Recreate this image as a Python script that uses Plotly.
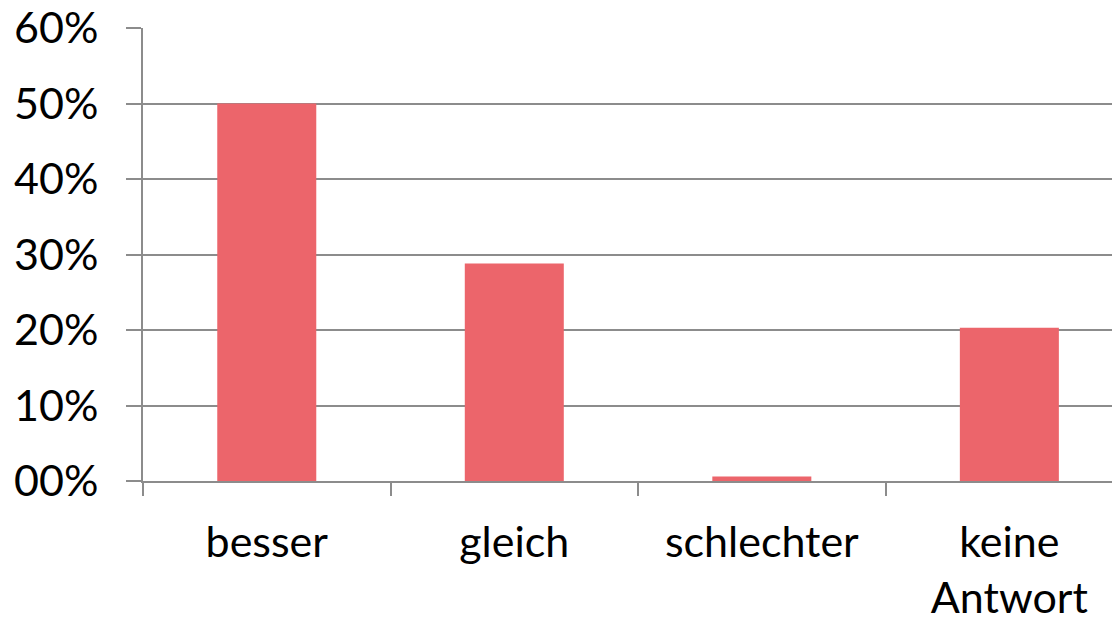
import plotly.graph_objects as go

categories = ["besser", "gleich", "schlechter", "keine<br>Antwort"]
shares = [0.50, 0.288, 0.006, 0.203]
y_tick_values = [0, 0.1, 0.2, 0.3, 0.4, 0.5, 0.6]
y_tick_labels = ["00%", "10%", "20%", "30%", "40%", "50%", "60%"]

bar_color = "#EC656B"
line_color = "#8C8C8C"
font_family = "Lato, 'Open Sans', sans-serif"

fig = go.Figure(
    go.Bar(
        x=categories,
        y=shares,
        width=0.4,
        marker=dict(color=bar_color, line=dict(width=0)),
        hovertemplate="%{x}: %{y:.1%}<extra></extra>",
    )
)

# page body has an 8px margin, so the figure is sized to fit what remains
fig.update_layout(
    width=1112,
    height=613,
    margin=dict(l=135, r=0, t=20, b=140, autoexpand=False),
    paper_bgcolor="white",
    plot_bgcolor="white",
    showlegend=False,
    font=dict(family=font_family, size=43, color="black"),
)

fig.update_xaxes(
    type="category",
    range=[-0.5, 3.447],
    tickson="boundaries",
    ticks="outside",
    ticklen=13,
    tickwidth=2,
    tickcolor=line_color,
    showline=True,
    linecolor=line_color,
    linewidth=2,
    showgrid=False,
    automargin=False,
    ticklabelstandoff=22,
    ticklabeloverflow="allow",
)

fig.update_yaxes(
    range=[0, 0.6],
    tickmode="array",
    tickvals=y_tick_values,
    ticktext=y_tick_labels,
    ticks="outside",
    ticklen=15,
    tickwidth=2,
    tickcolor=line_color,
    showline=True,
    linecolor=line_color,
    linewidth=2,
    showgrid=True,
    gridcolor=line_color,
    gridwidth=2,
    zeroline=False,
    automargin=False,
    ticklabelstandoff=19,
    ticklabeloverflow="allow",
)

fig.write_html("out.html")
